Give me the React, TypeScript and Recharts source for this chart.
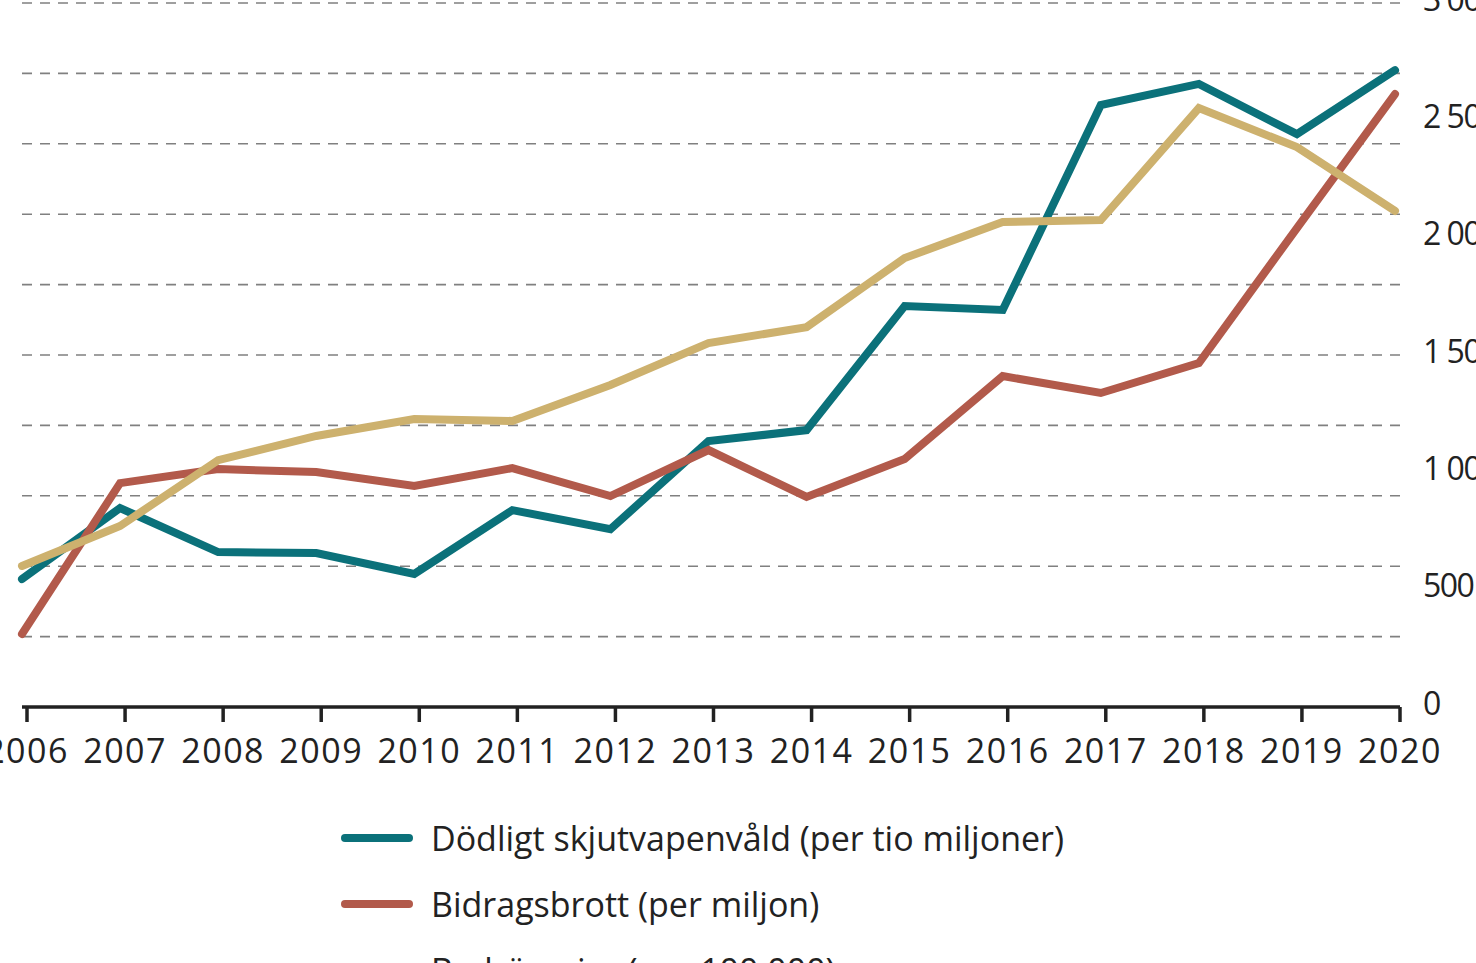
import React from "react";
import { LineChart, Line, XAxis, YAxis, ReferenceLine } from "recharts";

// Years on the x axis
const YEARS = [
  "2006", "2007", "2008", "2009", "2010", "2011", "2012",
  "2013", "2014", "2015", "2016", "2017", "2018", "2019", "2020",
];

// Series values
const SKJUTVAPEN = [545, 848, 660, 656, 567, 839, 758, 1133, 1180, 1709, 1692, 2565, 2655, 2441, 2714];
const BIDRAG = [311, 954, 1014, 1001, 942, 1018, 899, 1095, 895, 1057, 1410, 1338, 1466, 2041, 2612];
const BEDRAGERI = [601, 771, 1052, 1155, 1227, 1219, 1372, 1551, 1619, 1913, 2067, 2075, 2552, 2386, 2114];

// Axis labels and dashed guide lines
const Y_TICKS = [0, 500, 1000, 1500, 2000, 2500, 3000];
const GRID_VALUES = [300, 600, 900, 1200, 1500, 1800, 2100, 2400, 2700, 3000];

const SERIES = [
  { key: "skjut", name: "Dödligt skjutvapenvåld (per tio miljoner)", color: "#0b717a" },
  { key: "bidrag", name: "Bidragsbrott (per miljon)", color: "#b25a4b" },
  { key: "bedrag", name: "Bedrägerier (per 100 000)", color: "#cdb16e" },
];

const data = YEARS.map((year, i) => ({
  year,
  skjut: SKJUTVAPEN[i],
  bidrag: BIDRAG[i],
  bedrag: BEDRAGERI[i],
}));

const FONT = "'Open Sans', 'Noto Sans', sans-serif";
const INK = "#222222";

function formatTick(v: number): string {
  return v >= 1000 ? v.toString().replace(/\B(?=(\d{3})+(?!\d))/g, " ") : String(v);
}

// Right-hand value labels, drawn straight at the scale position
function ValueTick({ x, y, payload }: { x?: number; y?: number; payload?: { value: number } }) {
  return (
    <text x={(x ?? 0) + 23} y={(y ?? 0) - 4} dy="0.36em" fill={INK} fontSize={32}
      fontFamily={FONT} letterSpacing={-1.5} textAnchor="start">
      {formatTick(payload?.value ?? 0)}
    </text>
  );
}

function YearTick({ x, y, payload }: { x?: number; y?: number; payload?: { value: string } }) {
  return (
    <text x={x} y={(y ?? 0) + 27} dy="0.36em" fill={INK} fontSize={34}
      fontFamily={FONT} letterSpacing={1.5} textAnchor="middle">
      {payload?.value}
    </text>
  );
}

export default function App() {
  return (
    <div style={{ position: "absolute", left: 0, top: 0, width: 1476, height: 963, overflow: "hidden", background: "#fff", fontFamily: FONT }}>
      <LineChart
        width={1476}
        height={963}
        data={data}
        margin={{ top: 3, right: 0, left: 22, bottom: 196 }}
      >
        {GRID_VALUES.map((v) => (
          <ReferenceLine key={v} y={v} stroke="#808080" strokeWidth={1.6} strokeDasharray="10 8" />
        ))}
        {/* visible year axis sits a few pixels right of the plotted points, as in the original */}
        <XAxis
          dataKey="year"
          height={60}
          interval={0}
          padding={{ left: 5, right: 0 }}
          axisLine={{ stroke: INK, strokeWidth: 3.5 }}
          tickLine={{ stroke: INK, strokeWidth: 3.5 }}
          tickSize={15}
          tick={<YearTick />}
        />
        <XAxis xAxisId="lines" dataKey="year" hide padding={{ left: 0, right: 5 }} />
        <YAxis
          orientation="right"
          width={76}
          domain={[0, 3000]}
          ticks={Y_TICKS}
          interval={0}
          axisLine={false}
          tickLine={false}
          tickSize={0}
          tickMargin={0}
          tick={<ValueTick />}
        />
        {SERIES.map((s) => (
          <Line
            key={s.key}
            xAxisId="lines"
            dataKey={s.key}
            name={s.name}
            stroke={s.color}
            strokeWidth={8}
            strokeLinecap="round"
            dot={false}
            activeDot={false}
            isAnimationActive={false}
          />
        ))}
      </LineChart>
      <div style={{ position: "absolute", left: 341, top: 805 }}>
        {SERIES.map((s) => (
          <div key={s.key} style={{ display: "flex", alignItems: "center", height: 66 }}>
            <span style={{ display: "inline-block", width: 72, height: 8, borderRadius: 4, background: s.color, marginRight: 18 }} />
            <span style={{ fontSize: 34, color: INK, whiteSpace: "nowrap", lineHeight: "66px" }}>{s.name}</span>
          </div>
        ))}
      </div>
    </div>
  );
}
